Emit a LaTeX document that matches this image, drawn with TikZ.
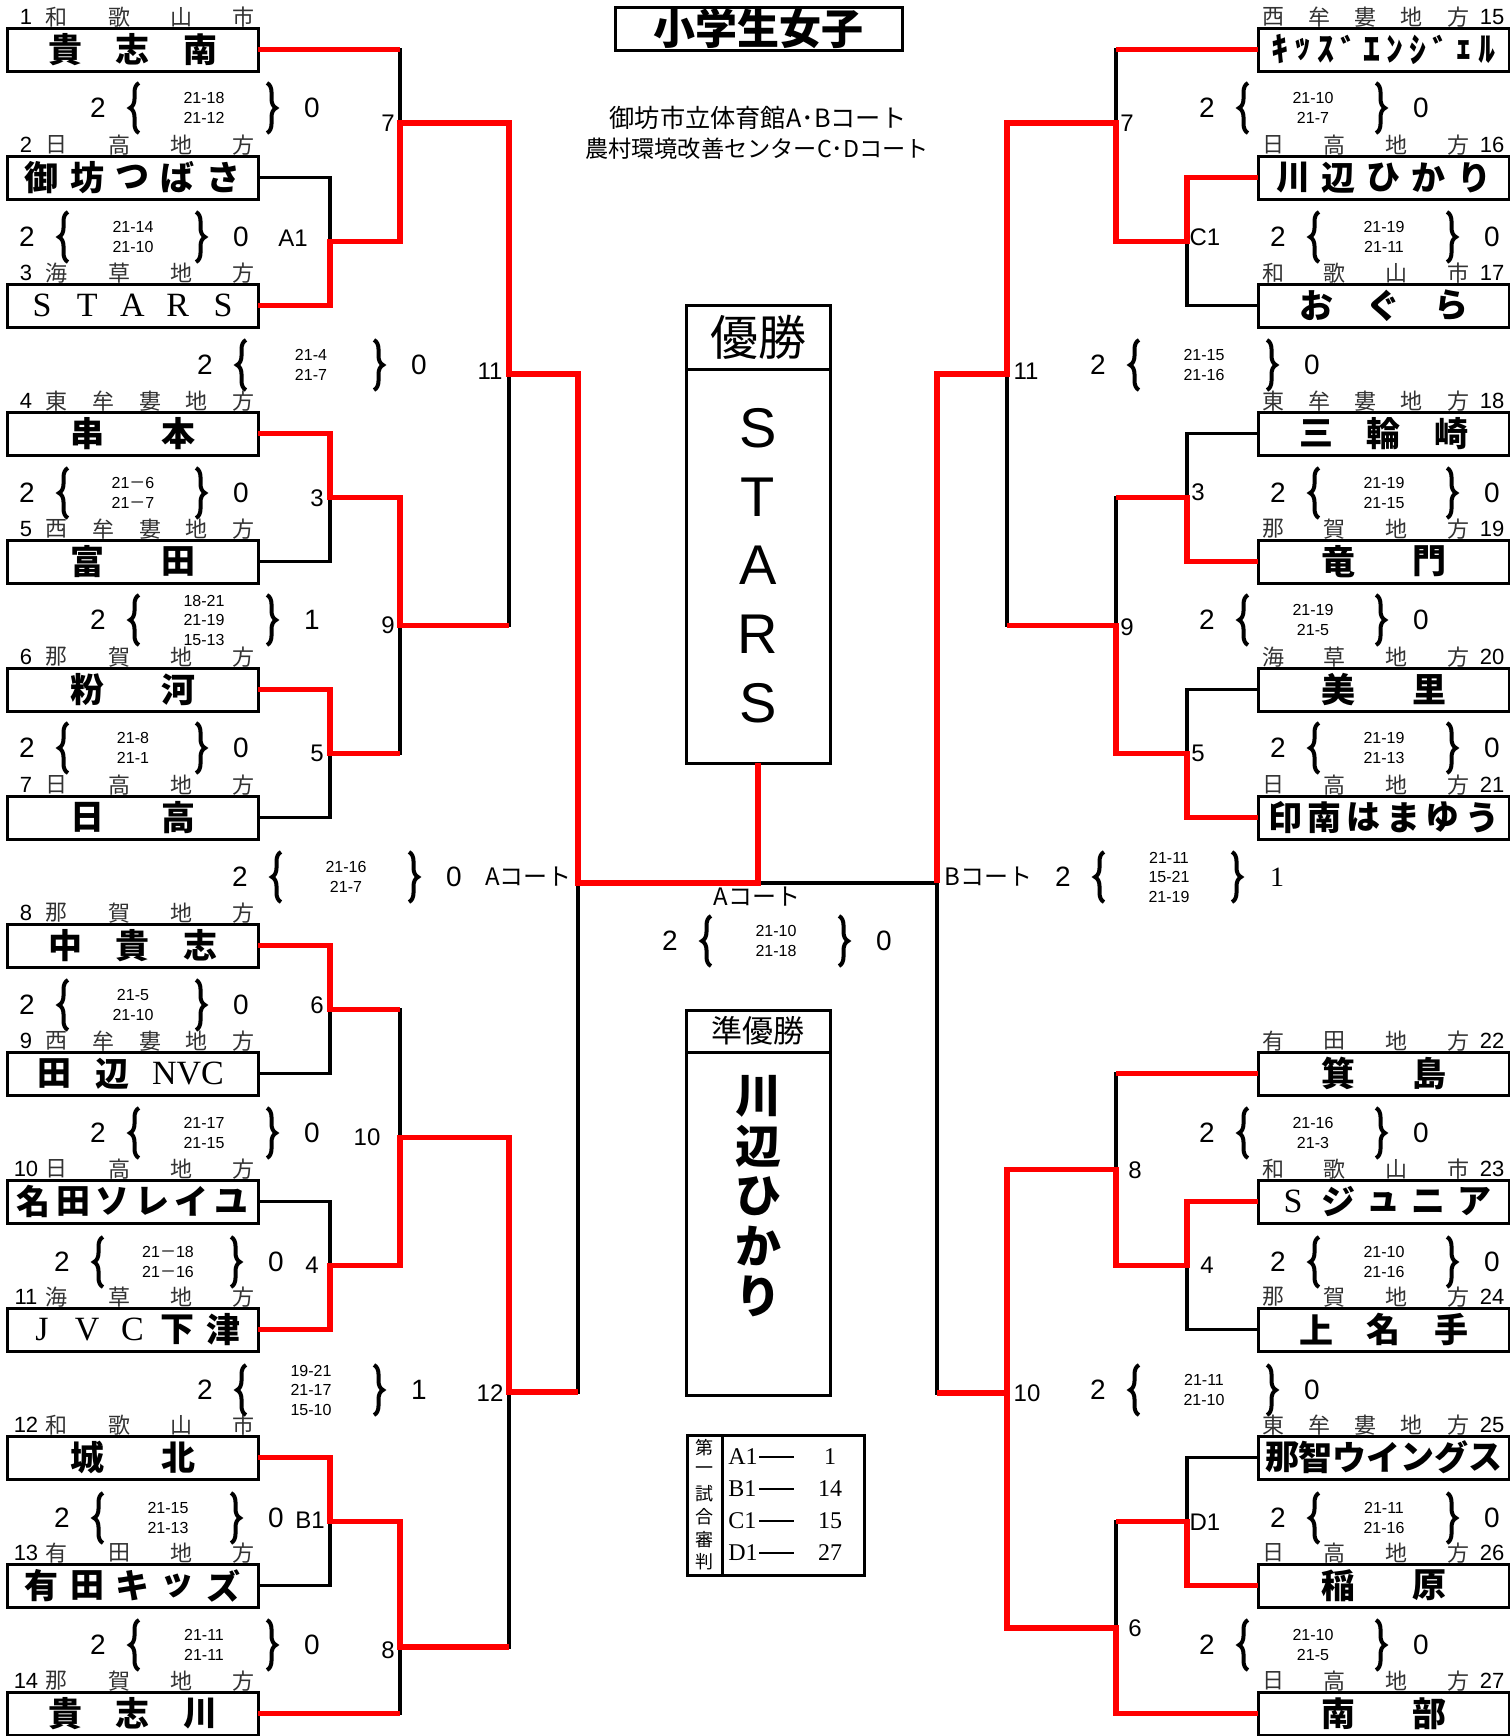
\documentclass[tikz,border=0pt]{standalone}
\usepackage{fontspec}
\setmainfont{Liberation Sans}
\newfontfamily\jpfont{Noto Sans CJK JP}
\newfontfamily\serifnum{Liberation Serif}
\usetikzlibrary{calc,decorations.pathreplacing}

\newcommand\fsz[1]{\fontsize{#1}{#1}\selectfont}
\newcommand\lat[1]{{\serifnum\mdseries #1}}

% team name spread over a box: node, count, list
\newcommand\teamname[3]{%
  \pgfmathsetmacro\edgeoff{{0,0,80,58,46,35,27,24,23,23,22}[#2]}%
  \pgfmathsetmacro\gapstep{(251-2*\edgeoff)/(#2-1)}%
  \foreach \ch [count=\idx from 0] in {#3}
    \node[namech] at ($(#1.west)+(\edgeoff+\idx*\gapstep,0)$) {\ch};%
}
% region line above a box (left side / right side)
\newcommand\regionL[4]{%
  \node[regnum] at ($(#1.north west)+(19,-11)$) {#2};
  \pgfmathsetmacro\regstep{186/(#3-1)}%
  \foreach \ch [count=\idx from 0] in {#4}
    \node[regch] at ($(#1.north west)+(50+\idx*\regstep,-11)$) {\ch};%
}
\newcommand\regionR[4]{%
  \node[regnum] at ($(#1.north west)+(234,-11)$) {#2};
  \pgfmathsetmacro\regstep{185/(#3-1)}%
  \foreach \ch [count=\idx from 0] in {#4}
    \node[regch] at ($(#1.north west)+(15+\idx*\regstep,-11)$) {\ch};%
}
% score block: x of winner digit, y, loser digit, games
\newcommand\score[4]{%
  \node[bigdig] at (#1,#2) {2};
  \draw[brc] (#1+41,#2+25) -- (#1+41,#2-25);
  \draw[brc] (#1+169,#2-25) -- (#1+169,#2+25);
  \node[pts] at (#1+106,#2) {#4};
  \node[bigdig] at (#1+214,#2) {#3};
}

\begin{document}
\begin{tikzpicture}[x=0.5pt,y=-0.5pt,
  team/.style={draw, line width=1.5pt, minimum width=125.5pt, minimum height=21.5pt,
    inner sep=0pt, outer sep=0pt, anchor=north west},
  panel/.style={draw, line width=1.5pt, inner sep=0pt, outer sep=0pt},
  namech/.style={font=\jpfont\bfseries\fsz{17pt}, inner sep=0pt},
  regch/.style={font=\jpfont\fsz{11pt}, text=black!80, inner sep=0pt},
  regnum/.style={font=\fsz{11pt}, inner sep=0pt},
  junc/.style={font=\fsz{12pt}, inner sep=0pt},
  bigdig/.style={font=\fsz{14pt}, inner sep=0pt},
  pts/.style={font=\fontsize{8pt}{9.75pt}\selectfont, align=center, inner sep=0pt},
  brc/.style={decorate, decoration={brace, amplitude=4.5pt}, line width=2pt},
  link/.style={line width=1.6pt},
  win/.style={red, line width=2.6pt},
  refch/.style={font=\jpfont\fsz{9pt}, inner sep=0pt},
  refrow/.style={font=\serifnum\fsz{12pt}, inner sep=0pt}]

\fill[white] (0,0) rectangle (1510,1736);
\useasboundingbox (0,0) rectangle (1510,1736);

% title
\node[panel, minimum width=143.5pt, minimum height=21.5pt, font=\jpfont\bfseries\fsz{21pt}] (title) at (758.5,28.5) {小学生女子};
\node[font=\jpfont\fsz{12.6pt}, inner sep=0pt] (venue1) at (758,118) {御坊市立体育館A･Bコート};
\node[font=\jpfont\fsz{11.6pt}, inner sep=0pt] (venue2) at (757,149) {農村環境改善センターC･Dコート};

% team boxes
\foreach \n in {1,...,14} \node[team] (t\n) at (7,{28+128*(\n-1)}) {};
\foreach \n in {15,...,21} \node[team] (t\n) at (1258,{28+128*(\n-15)}) {};
\foreach \n in {22,...,27} \node[team] (t\n) at (1258,{28+128*(\n-14)}) {};

\teamname{t1}{3}{貴,志,南}
\teamname{t2}{5}{御,坊,つ,ば,さ}
\teamname{t3}{5}{\lat{S},\lat{T},\lat{A},\lat{R},\lat{S}}
\teamname{t4}{2}{串,本}
\teamname{t5}{2}{富,田}
\teamname{t6}{2}{粉,河}
\teamname{t7}{2}{日,高}
\teamname{t8}{3}{中,貴,志}
\node[namech] at ($(t9.west)+(47,0)$) {田};
\node[namech] at ($(t9.west)+(105,0)$) {辺};
\node[namech] at ($(t9.west)+(181,0)$) {\lat{NVC}};
\teamname{t10}{6}{名,田,ソ,レ,イ,ユ}
\teamname{t11}{5}{\lat{J},\lat{V},\lat{C},下,津}
\teamname{t12}{2}{城,北}
\teamname{t13}{5}{有,田,キ,ッ,ズ}
\teamname{t14}{3}{貴,志,川}
\teamname{t15}{10}{ｷ,ｯ,ｽ,ﾞ,ｴ,ﾝ,ｼ,ﾞ,ｪ,ﾙ}
\teamname{t16}{5}{川,辺,ひ,か,り}
\teamname{t17}{3}{お,ぐ,ら}
\teamname{t18}{3}{三,輪,崎}
\teamname{t19}{2}{竜,門}
\teamname{t20}{2}{美,里}
\teamname{t21}{6}{印,南,は,ま,ゆ,う}
\teamname{t22}{2}{箕,島}
\teamname{t23}{5}{\lat{S},ジ,ュ,ニ,ア}
\teamname{t24}{3}{上,名,手}
\teamname{t25}{7}{那,智,ウ,イ,ン,グ,ス}
\teamname{t26}{2}{稲,原}
\teamname{t27}{2}{南,部}

\regionL{t1}{1}{4}{和,歌,山,市}
\regionL{t2}{2}{4}{日,高,地,方}
\regionL{t3}{3}{4}{海,草,地,方}
\regionL{t4}{4}{5}{東,牟,婁,地,方}
\regionL{t5}{5}{5}{西,牟,婁,地,方}
\regionL{t6}{6}{4}{那,賀,地,方}
\regionL{t7}{7}{4}{日,高,地,方}
\regionL{t8}{8}{4}{那,賀,地,方}
\regionL{t9}{9}{5}{西,牟,婁,地,方}
\regionL{t10}{10}{4}{日,高,地,方}
\regionL{t11}{11}{4}{海,草,地,方}
\regionL{t12}{12}{4}{和,歌,山,市}
\regionL{t13}{13}{4}{有,田,地,方}
\regionL{t14}{14}{4}{那,賀,地,方}
\regionR{t15}{15}{5}{西,牟,婁,地,方}
\regionR{t16}{16}{4}{日,高,地,方}
\regionR{t17}{17}{4}{和,歌,山,市}
\regionR{t18}{18}{5}{東,牟,婁,地,方}
\regionR{t19}{19}{4}{那,賀,地,方}
\regionR{t20}{20}{4}{海,草,地,方}
\regionR{t21}{21}{4}{日,高,地,方}
\regionR{t22}{22}{4}{有,田,地,方}
\regionR{t23}{23}{4}{和,歌,山,市}
\regionR{t24}{24}{4}{那,賀,地,方}
\regionR{t25}{25}{5}{東,牟,婁,地,方}
\regionR{t26}{26}{4}{日,高,地,方}
\regionR{t27}{27}{4}{日,高,地,方}

% champion / runner-up panels
\node[panel, minimum width=72pt, minimum height=229pt] (champ) at (758,534) {};
\draw[line width=1.5pt] (686,369) -- (830,369);
\node[font=\jpfont\fsz{24pt}, inner sep=0pt] (champhead) at (758,337) {優勝};
\foreach \ch [count=\idx from 0] in {S,T,A,R,S}
  \node[font=\fsz{28pt}, inner sep=0pt] at (758,{428+68.75*\idx}) {\ch};
\node[panel, minimum width=72pt, minimum height=192.5pt] (second) at (758,1202.5) {};
\draw[line width=1.5pt] (686,1052) -- (830,1052);
\node[font=\jpfont\fsz{15.5pt}, inner sep=0pt] (secondhead) at (758,1031) {準優勝};
\foreach \ch [count=\idx from 0] in {川,辺,ひ,か,り}
  \node[font=\jpfont\bfseries\fsz{23pt}, inner sep=0pt] at (758,{1096+50*\idx}) {\ch};

% match points, left half
\coordinate (oA1) at (330,241.5);
\coordinate (o7) at (400,123);
\coordinate (o3) at (330,497.5);
\coordinate (o5) at (330,753.5);
\coordinate (o9) at (400,625.5);
\coordinate (o11) at (509,374);
\coordinate (o6) at (330,1009.5);
\coordinate (o4) at (330,1265.5);
\coordinate (o10) at (400,1137.5);
\coordinate (oB1) at (330,1521.5);
\coordinate (o8) at (400,1647);
\coordinate (o12) at (509,1392);
\coordinate (oF) at (578,883);
% match points, right half
\coordinate (pC1) at (1187,241.5);
\coordinate (p7) at (1116,123);
\coordinate (p3) at (1187,497.5);
\coordinate (p5) at (1187,753.5);
\coordinate (p9) at (1116,625.5);
\coordinate (p11) at (1007,374);
\coordinate (p4) at (1187,1265.5);
\coordinate (p8) at (1116,1169.5);
\coordinate (pD1) at (1187,1521.5);
\coordinate (p6) at (1116,1628);
\coordinate (p10) at (1007,1393);
\coordinate (pF) at (937,883);

% bracket, black
\draw[link] (t2.east) -| (oA1) |- (t3.east);
\draw[link] (t1.east) -| (o7) |- (oA1);
\draw[link] (t4.east) -| (o3) |- (t5.east);
\draw[link] (t6.east) -| (o5) |- (t7.east);
\draw[link] (o3) -| (o9) |- (o5);
\draw[link] (o7) -| (o11) |- (o9);
\draw[link] (t8.east) -| (o6) |- (t9.east);
\draw[link] (t10.east) -| (o4) |- (t11.east);
\draw[link] (o6) -| (o10) |- (o4);
\draw[link] (t12.east) -| (oB1) |- (t13.east);
\draw[link] (oB1) -| (o8) |- (t14.east);
\draw[link] (o10) -| (o12) |- (o8);
\draw[link] (o11) -| (oF) |- (o12);
\draw[link] (t16.west) -| (pC1) |- (t17.west);
\draw[link] (t15.west) -| (p7) |- (pC1);
\draw[link] (t18.west) -| (p3) |- (t19.west);
\draw[link] (t20.west) -| (p5) |- (t21.west);
\draw[link] (p3) -| (p9) |- (p5);
\draw[link] (p7) -| (p11) |- (p9);
\draw[link] (t23.west) -| (p4) |- (t24.west);
\draw[link] (t22.west) -| (p8) |- (p4);
\draw[link] (t25.west) -| (pD1) |- (t26.west);
\draw[link] (pD1) -| (p6) |- (t27.west);
\draw[link] (p8) -| (p10) |- (p6);
\draw[link] (p11) -| (pF) |- (p10);
\draw[link] (oF) -- (pF);

% winners, red
\draw[win] (t1.east) -- (t1.east -| o7);
\draw[win] (t3.east) -| (oA1) -| (o7) -| (o11) -| (oF) -| (champ.south);
\draw[win] (t4.east) -| (o3) -| (o9) -- (o9 -| o11);
\draw[win] (t6.east) -| (o5) -- (o5 -| o9);
\draw[win] (t8.east) -| (o6) -- (o6 -| o10);
\draw[win] (t11.east) -| (o4) -| (o10) -| (o12) -- (o12 -| oF);
\draw[win] (t12.east) -| (oB1) -| (o8) -- (o8 -| o12);
\draw[win] (t14.east) -- (t14.east -| o8);
\draw[win] (t15.west) -- (t15.west -| p7);
\draw[win] (t16.west) -| (pC1) -| (p7) -| (p11) -| (pF);
\draw[win] (t19.west) -| (p3) -- (p3 -| p9);
\draw[win] (t21.west) -| (p5) -| (p9) -- (p9 -| p11);
\draw[win] (t22.west) -- (t22.west -| p8);
\draw[win] (t23.west) -| (p4) -| (p8) -| (p10) -- (p10 -| pF);
\draw[win] (t26.west) -| (pD1) -- (pD1 -| p6);
\draw[win] (t27.west) -| (p6) -| (p10);

% match numbers
\node[junc] (lA1) at (293,238) {A1};
\node[junc] (l7L) at (388,123) {7};
\node[junc] (l3L) at (317,498) {3};
\node[junc] (l9L) at (388,625) {9};
\node[junc] (l5L) at (317,753) {5};
\node[junc] (l11L) at (490,371) {11};
\node[junc] (l6L) at (317,1005) {6};
\node[junc] (l10L) at (367,1137) {10};
\node[junc] (l4L) at (312,1265) {4};
\node[junc] (lB1) at (310,1520) {B1};
\node[junc] (l8L) at (388,1650) {8};
\node[junc] (l12L) at (490,1393) {12};
\node[junc] (l7R) at (1127,123) {7};
\node[junc] (lC1) at (1205,237) {C1};
\node[junc] (l3R) at (1198,492) {3};
\node[junc] (l9R) at (1127,627) {9};
\node[junc] (l5R) at (1198,753) {5};
\node[junc] (l11R) at (1026,371) {11};
\node[junc] (l8R) at (1135,1170) {8};
\node[junc] (l4R) at (1207,1265) {4};
\node[junc] (l10R) at (1027,1393) {10};
\node[junc] (lD1) at (1205,1522) {D1};
\node[junc] (l6R) at (1135,1628) {6};
\node[junc, font=\jpfont\fsz{12pt}, anchor=east] (courtA) at (572,877) {Aコート};
\node[junc, font=\jpfont\fsz{12pt}, anchor=west] (courtB) at (944,877) {Bコート};
\node[junc, font=\jpfont\fsz{12pt}] (courtF) at (757,897) {Aコート};

% scores
\score{98}{108}{0}{21-18\\21-12}
\score{27}{237}{0}{21-14\\21-10}
\score{205}{365}{0}{21-4\\21-7}
\score{27}{493}{0}{21{\jpfont －}6\\21{\jpfont －}7}
\score{98}{620}{1}{18-21\\21-19\\15-13}
\score{27}{748}{0}{21-8\\21-1}
\score{240}{877}{0}{21-16\\21-7}
\score{27}{1005}{0}{21-5\\21-10}
\score{98}{1133}{0}{21-17\\21-15}
\score{62}{1262}{0}{21{\jpfont －}18\\21{\jpfont －}16}
\score{205}{1390}{1}{19-21\\21-17\\15-10}
\score{62}{1518}{0}{21-15\\21-13}
\score{98}{1645}{0}{21-11\\21-11}
\score{1207}{108}{0}{21-10\\21-7}
\score{1278}{237}{0}{21-19\\21-11}
\score{1098}{365}{0}{21-15\\21-16}
\score{1278}{493}{0}{21-19\\21-15}
\score{1207}{620}{0}{21-19\\21-5}
\score{1278}{748}{0}{21-19\\21-13}
\score{1063}{877}{\serifnum 1}{21-11\\15-21\\21-19}
\score{1207}{1133}{0}{21-16\\21-3}
\score{1278}{1262}{0}{21-10\\21-16}
\score{1098}{1390}{0}{21-11\\21-10}
\score{1278}{1518}{0}{21-11\\21-16}
\score{1207}{1645}{0}{21-10\\21-5}
\score{670}{941}{0}{21-10\\21-18}

% first-game referees
\node[panel, minimum width=88.5pt, minimum height=70pt] (refs) at (775.5,1505) {};
\draw[line width=1.5pt] (722,1435) -- (722,1575);
\foreach \ch [count=\idx from 0] in {第,一,試,合,審,判}
  \node[refch] at (704,{1448+22.8*\idx}) {\ch};
\foreach \crt/\num [count=\idx from 0] in {A1/1,B1/14,C1/15,D1/27} {
  \node[refrow, anchor=west] at (728,{1457+32*\idx}) {\crt};
  \draw[line width=1.3pt] (759,{1457+32*\idx}) -- (794,{1457+32*\idx});
  \node[refrow] at (830,{1457+32*\idx}) {\num};
}
\end{tikzpicture}
\end{document}
